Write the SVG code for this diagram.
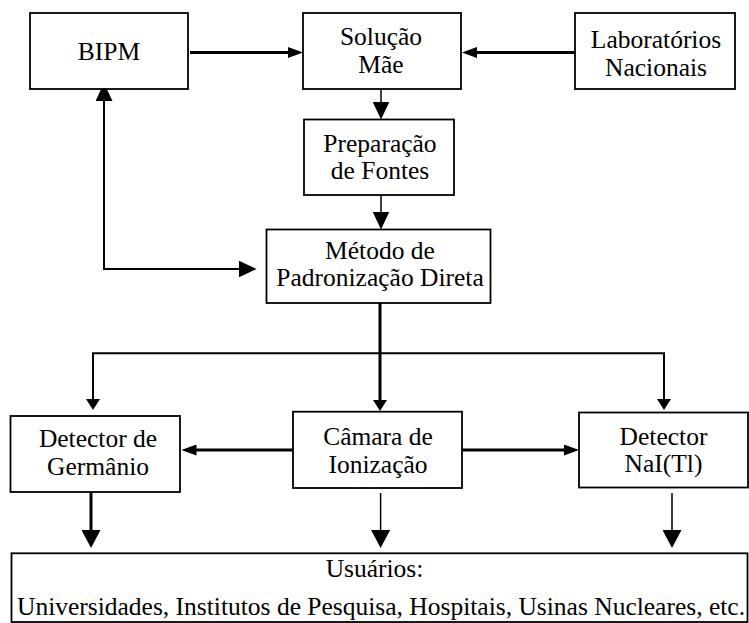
<svg xmlns="http://www.w3.org/2000/svg" width="749" height="623" viewBox="0 0 749 623">
<style>
.box{fill:#fff;stroke:#000;stroke-width:1.8}
.t{font-family:"Liberation Serif","Times New Roman",serif;font-size:25.5px;fill:#000;text-anchor:middle}
.c{fill:none;stroke:#000}
.w3{stroke-width:3}
.w2{stroke-width:2}
.w1{stroke-width:1.5}
</style>
<defs>
<marker id="mS" markerUnits="userSpaceOnUse" viewBox="0 0 15 11" markerWidth="15" markerHeight="11" refX="7.5" refY="5.5" orient="auto"><path d="M0,0 L15,5.5 L0,11 Z" fill="#000"/></marker>
<marker id="mB" markerUnits="userSpaceOnUse" viewBox="0 0 18 17" markerWidth="18" markerHeight="17" refX="9" refY="8.5" orient="auto-start-reverse"><path d="M0,0 L18,8.5 L0,17 Z" fill="#000"/></marker>
<marker id="mM" markerUnits="userSpaceOnUse" viewBox="0 0 11 14" markerWidth="11" markerHeight="14" refX="5.5" refY="7" orient="auto"><path d="M0,0 L11,7 L0,14 Z" fill="#000"/></marker>
<marker id="mD" markerUnits="userSpaceOnUse" viewBox="0 0 18 19" markerWidth="18" markerHeight="19" refX="9" refY="9.5" orient="auto"><path d="M0,0 L18,9.5 L0,19 Z" fill="#000"/></marker>
</defs>
<g id="connectors">
<path class="c w3" d="M190,52.5 H295.5" marker-end="url(#mS)"/>
<path class="c w3" d="M575,52.5 H469.5" marker-end="url(#mS)"/>
<path class="c w1" d="M381,84 V110.5" marker-end="url(#mB)"/>
<path class="c w1" d="M381,195 V220.5" marker-end="url(#mB)"/>
<path class="c w2" d="M104,92 V269 H247.5" marker-start="url(#mB)" marker-end="url(#mB)"/>
<path class="c w3" d="M380,303 V405.5" marker-end="url(#mM)"/>
<path class="c w2" d="M380,353.3 H93 V404.5" marker-end="url(#mM)"/>
<path class="c w2" d="M380,353.3 H664 V404.5" marker-end="url(#mM)"/>
<path class="c w3" d="M293,450 H189" marker-end="url(#mS)"/>
<path class="c w3" d="M462,450 H571.5" marker-end="url(#mS)"/>
<path class="c w3" d="M91,492 V539" marker-end="url(#mD)"/>
<path class="c w1" d="M380.6,493 V539" marker-end="url(#mD)"/>
<path class="c w1" d="M672,493 V539" marker-end="url(#mD)"/>
</g>
<g id="bipm"><rect class="box" x="30" y="13" width="158" height="76"/><text class="t" x="109" y="60">BIPM</text></g>
<g id="solucao"><rect class="box" x="303" y="13" width="158" height="76"/><text class="t" x="381" y="45">Solução</text><text class="t" x="381" y="72.5">Mãe</text></g>
<g id="laboratorios"><rect class="box" x="575" y="13" width="160" height="76"/><text class="t" x="656" y="48">Laboratórios</text><text class="t" x="656" y="75.5">Nacionais</text></g>
<g id="preparacao"><rect class="box" x="304" y="119.5" width="150" height="75.5"/><text class="t" x="380" y="151.5">Preparação</text><text class="t" x="380" y="179">de Fontes</text></g>
<g id="metodo"><rect class="box" x="266.5" y="229.5" width="224" height="73.5"/><text class="t" x="380" y="258.5">Método de</text><text class="t" x="380" y="286">Padronização Direta</text></g>
<g id="germanio"><rect class="box" x="10.5" y="416" width="169.5" height="76"/><text class="t" x="98" y="447">Detector de</text><text class="t" x="98" y="474.5">Germânio</text></g>
<g id="camara"><rect class="box" x="293" y="411.7" width="169" height="76.3"/><text class="t" x="378" y="445">Câmara de</text><text class="t" x="378" y="472.5">Ionização</text></g>
<g id="nai"><rect class="box" x="579" y="412.5" width="169" height="75"/><text class="t" x="663.5" y="444.5">Detector</text><text class="t" x="663.5" y="472">NaI(Tl)</text></g>
<g id="usuarios"><rect class="box" x="11.5" y="553.3" width="736" height="68.7"/><text class="t" x="374.5" y="577">Usuários:</text><text class="t" x="381" y="615">Universidades, Institutos de Pesquisa, Hospitais, Usinas Nucleares, etc.</text></g>
</svg>
